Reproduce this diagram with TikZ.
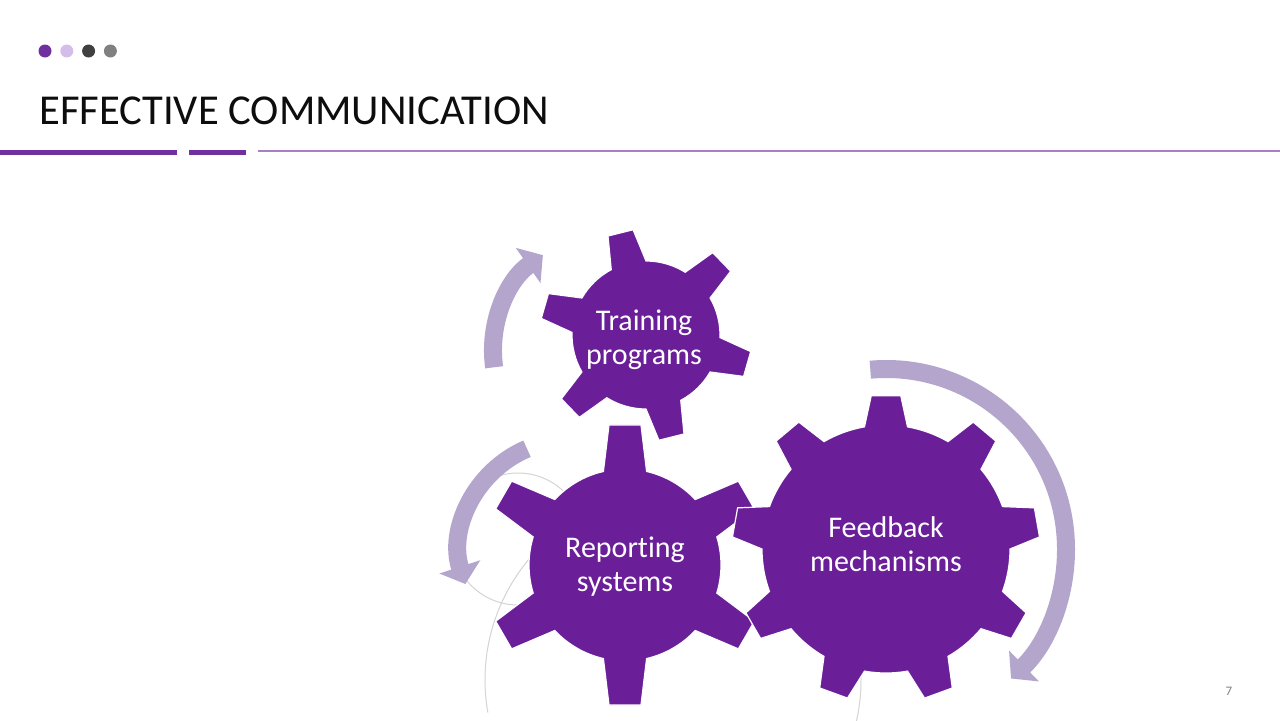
\documentclass[tikz,border=0pt]{standalone}
\usepackage{fontspec}
\setmainfont{Carlito}[Ligatures=NoCommon]
\usepackage{xcolor}
\usetikzlibrary{arrows.meta,positioning,calc}
\definecolor{GearPurple}{HTML}{6A1F99}
\definecolor{ArrowLilac}{HTML}{B3A5CB}
\definecolor{DotPurple}{HTML}{7030A0}
\definecolor{DotLilac}{HTML}{D5BDEA}
\definecolor{DotDark}{HTML}{404040}
\definecolor{DotGrey}{HTML}{808080}
\definecolor{RulePurple}{HTML}{7030A0}
\definecolor{RuleLilac}{HTML}{A67FC6}
\definecolor{GhostGrey}{HTML}{D4D4D4}
\definecolor{TitleInk}{HTML}{0D0D0D}
\tikzset{
  gearfill/.style={fill=GearPurple, draw=white, line width=0.6pt},
  geartext/.style={text=white, align=center, inner sep=0pt, font=\fontsize{15}{17}\selectfont},
  cyclearrow/.style={draw=ArrowLilac, line width=9pt, -{Triangle[length=9pt, width=21pt]}},
  ghost/.style={draw=GhostGrey, line width=0.5pt},
  titledot/.style={circle, fill=#1, minimum size=6.5pt, inner sep=0pt}
}
% center, body radius, tip radius, teeth, offset, base half angle, tip half angle
\newcommand{\drawgear}[7]{%
  \path[gearfill, shift={(#1)}] ({#5-#6}:#2)
    \foreach \k in {1,...,#4}{
      -- ({#5+(\k-1)*360/#4-#7}:#3) -- ({#5+(\k-1)*360/#4+#7}:#3)
      -- ({#5+(\k-1)*360/#4+#6}:#2)
      arc[start angle={#5+(\k-1)*360/#4+#6}, end angle={#5+\k*360/#4-#6}, radius=#2]
    } -- cycle;
}

\begin{document}
\begin{tikzpicture}[x=0.5pt, y=0.5pt]
  \clip (0,0) rectangle (1280,720);
  \fill[white] (0,0) rectangle (1280,720);

  % header
  \node[titledot=DotPurple] (d1) at (45,669) {};
  \node[titledot=DotLilac, right=4pt of d1] (d2) {};
  \node[titledot=DotDark, right=4pt of d2] (d3) {};
  \node[titledot=DotGrey, right=4pt of d3] (d4) {};
  \node[anchor=base west, inner sep=0pt, text=TitleInk, font=\fontsize{21.3}{25}\selectfont] (title) at (39,596) {EFFECTIVE COMMUNICATION};
  \draw[RulePurple, line width=2.5pt] (0,568) -- (177,568);
  \draw[RulePurple, line width=2.5pt] (189,568) -- (246,568);
  \draw[RuleLilac, line width=0.75pt] (258,569) -- (1280,569);

  % gears
  \coordinate (trainC) at (646,385);
  \coordinate (reportC) at (625,155);
  \coordinate (feedC) at (886,171);
  \coordinate (loopA) at (610,369);
  \coordinate (loopB) at (570,170);
  \coordinate (ghostC) at (673,40);

  \draw[ghost] (518,181) circle[radius=66];
  \draw[ghost] ([shift={(115:188)}]ghostC) arc[start angle=115, end angle=190, radius=188];
  \draw[ghost] ([shift={(-15:188)}]ghostC) arc[start angle=-15, end angle=20, radius=188];

  \drawgear{trainC}{74}{106}{6}{104}{14}{7}
  \drawgear{reportC}{96}{141}{6}{90}{13}{6.5}
  \drawgear{feedC}{124}{154}{9}{90}{10}{5.5}

  \node[geartext] (train) at (644,380) {Training\\programs};
  \node[geartext] (report) at (625,153) {Reporting\\systems};
  \node[geartext] (feed) at (886,176) {Feedback\\mechanisms};

  \draw[cyclearrow] ([shift={(188:117)}]loopA) arc[start angle=188, end angle=125, radius=117];
  \draw[cyclearrow] ([shift={(113:110)}]loopB) arc[start angle=113, end angle=198, radius=110];
  \draw[cyclearrow] ([shift={(95:180)}]feedC) arc[start angle=95, end angle=-46, radius=180];

  \node[text=DotGrey, font=\fontsize{6.5}{8}\selectfont] (pagenum) at (1229,29) {7};
\end{tikzpicture}
\end{document}
